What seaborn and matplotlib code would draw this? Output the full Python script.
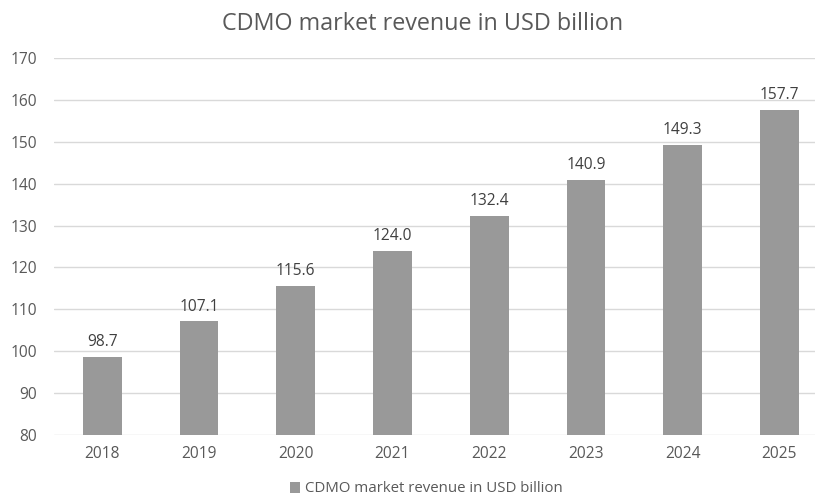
import matplotlib
matplotlib.use("Agg")
import matplotlib.pyplot as plt
import seaborn as sns
import pandas as pd

years = ["2018", "2019", "2020", "2021", "2022", "2023", "2024", "2025"]
revenue = [98.7, 107.1, 115.6, 124.0, 132.4, 140.9, 149.3, 157.7]
series_name = "CDMO market revenue in USD billion"

df = pd.DataFrame({"year": years, "revenue": revenue})

sns.set_theme(style="white")
plt.rcParams["font.family"] = ["Open Sans", "DejaVu Sans"]

text_col = "#595959"
bar_col = "#999999"

fig = plt.figure(figsize=(8.15, 4.97), dpi=100)
# axes deliberately runs past the right edge (the reference is cropped)
ax = fig.add_axes([53.8 / 815, 62 / 497, 774 / 815, 377 / 497])

sns.barplot(data=df, x="year", y="revenue", color=bar_col, width=0.4,
            saturation=1, label=series_name, linewidth=0, ax=ax)

ax.set_ylim(80, 170)
ax.set_yticks(range(80, 171, 10))
ax.set_xlim(-0.5, 7.5)
ax.yaxis.grid(True, color="#d9d9d9", linewidth=1)
ax.set_axisbelow(True)
for s in ax.spines.values():
    s.set_visible(False)
ax.set_xlabel("")
ax.set_ylabel("")
ax.tick_params(axis="both", length=0, labelsize=11.2, labelcolor=text_col)
ax.tick_params(axis="x", pad=8)
ax.tick_params(axis="y", pad=12)

for c in ax.containers:
    ax.bar_label(c, labels=[f"{v:.1f}" for v in revenue], padding=5,
                 fontsize=11.2, color="#404040")

fig.text(423 / 815, 1 - 24 / 497, series_name, ha="center", va="center",
         fontsize=16.8, color=text_col)

leg = ax.legend(loc="center", bbox_to_anchor=(426 / 815, 1 - 489 / 497),
                bbox_transform=fig.transFigure, frameon=False, fontsize=10.8,
                handlelength=0.7, handleheight=0.7, handletextpad=0.3)
for t in leg.get_texts():
    t.set_color(text_col)

fig.savefig("out.png", dpi=100)
